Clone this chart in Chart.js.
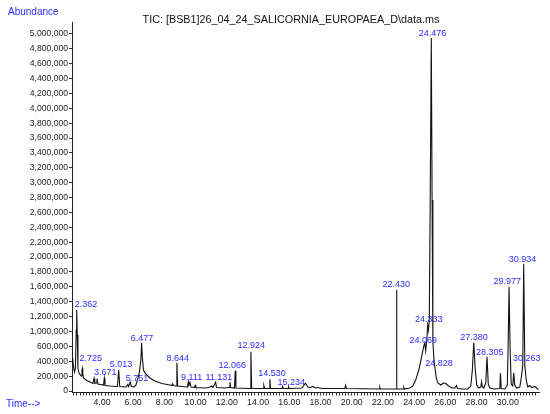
<!DOCTYPE html>
<html>
<head>
<meta charset="utf-8">
<title>TIC chromatogram</title>
<script src="https://cdn.jsdelivr.net/npm/chart.js@4.4.1/dist/chart.umd.min.js"></script>
<style>
  body { margin: 0; background: #fff; }
  #wrap { width: 550px; height: 414px; }
</style>
</head>
<body>
<div id="wrap"><canvas id="ticChart" width="550" height="414"></canvas></div>
<script>
// retention time (min) of each traced point of the TIC trace
const times = [
    2.08, 2.12, 2.17, 2.24, 2.30, 2.35, 2.38, 2.42, 2.46, 2.53,
    2.66, 2.72, 2.74, 2.77, 2.82, 2.98, 3.23, 3.42, 3.49, 3.54,
    3.62, 3.68, 3.74, 4.10, 4.15, 4.19, 4.51, 4.99, 5.07, 5.14,
    5.54, 5.65, 5.70, 5.81, 5.88, 6.05, 6.18, 6.31, 6.40, 6.49,
    6.54, 6.59, 6.66, 6.75, 6.88, 7.07, 7.39, 7.84, 8.35, 8.48,
    8.53, 8.58, 8.75, 8.80, 8.85, 9.12, 9.48, 9.53, 9.57, 9.64,
    9.70, 9.92, 9.97, 10.02, 10.60, 10.85, 11.03, 11.11, 11.28, 11.34,
    11.88, 12.15, 12.20, 12.25, 12.49, 12.54, 12.58, 13.50, 13.54, 13.59,
    14.34, 14.37, 14.42, 14.72, 14.76, 14.80, 15.53, 15.57, 15.62, 15.92,
    15.96, 15.99, 16.81, 17.04, 17.19, 17.35, 17.51, 17.70, 17.83, 18.09,
    19.56, 19.61, 19.66, 21.77, 21.80, 21.83, 22.84, 22.87, 22.90, 23.31,
    23.34, 23.37, 23.72, 23.91, 24.10, 24.30, 24.49, 24.62, 24.68, 24.74,
    24.81, 24.87, 24.92, 24.97, 25.03, 25.10, 25.15, 25.20, 25.26, 25.32,
    25.42, 25.52, 25.71, 25.87, 26.03, 26.16, 26.41, 26.61, 26.72, 26.77,
    27.06, 27.44, 27.63, 27.73, 27.82, 27.91, 28.01, 28.14, 28.27, 28.32,
    28.37, 28.46, 28.59, 28.67, 28.75, 28.85, 29.10, 29.49, 29.53, 29.58,
    29.81, 29.97, 30.03, 30.08, 30.15, 30.22, 30.32, 30.38, 30.45, 30.57,
    30.77, 30.89, 30.96, 31.02, 31.09, 31.18, 31.28, 31.41, 31.54, 31.73,
    31.89, 31.95
];

// abundance at each of those times (in the units of the plotted axis)
const abundances = [
    390000, 444000, 336000, 255000, 309000, 820000, 1089000, 753000, 309000, 242000,
    202000, 282000, 302000, 228000, 175000, 148000, 121000, 101000, 168000, 101000,
    108000, 168000, 94000, 81000, 171000, 74000, 67000, 61000, 282000, 61000,
    54000, 87000, 61000, 121000, 61000, 54000, 81000, 175000, 255000, 417000,
    649000, 444000, 282000, 242000, 215000, 175000, 134000, 101000, 81000, 74000,
    97000, 74000, 67000, 380000, 67000, 61000, 54000, 125000, 81000, 114000,
    54000, 47000, 74000, 47000, 40000, 47000, 67000, 47000, 117000, 47000,
    40000, 47000, 117000, 47000, 40000, 273000, 40000, 34000, 528000, 34000,
    34000, 74000, 34000, 34000, 157000, 34000, 34000, 61000, 34000, 34000,
    54000, 34000, 40000, 104000, 54000, 47000, 61000, 40000, 47000, 34000,
    34000, 74000, 34000, 27000, 50000, 27000, 27000, 1358000, 27000, 27000,
    47000, 27000, 40000, 67000, 148000, 282000, 471000, 605000, 645000, 538000,
    686000, 887000, 820000, 955000, 2568000, 4746000, 2568000, 686000, 444000, 336000,
    175000, 108000, 81000, 108000, 101000, 74000, 40000, 40000, 74000, 34000,
    27000, 27000, 67000, 282000, 649000, 309000, 81000, 40000, 54000, 125000,
    54000, 40000, 108000, 461000, 94000, 40000, 27000, 34000, 238000, 34000,
    27000, 81000, 686000, 1402000, 551000, 94000, 67000, 246000, 81000, 40000,
    54000, 215000, 350000, 1707000, 350000, 148000, 54000, 74000, 47000, 61000,
    34000, 20000
];

// peak annotations: text and the (time, abundance) point where each one sits
const peakNames = ["2.362", "2.725", "3.671", "5.013", "5.751", "6.477", "8.644", "9.111",
    "11.131", "12.066", "12.924", "14.530", "15.234", "22.430", "24.476", "24.333",
    "24.069", "24.828", "27.380", "28.305", "29.977", "30.934", "30.263"];
const peakLabelTimes = [2.98, 3.28, 4.21, 5.22, 6.24, 6.56, 8.85, 9.74,
    11.49, 12.34, 13.56, 14.89, 16.12, 22.86, 25.17, 24.94,
    24.58, 25.59, 27.84, 28.85, 29.97, 30.95, 31.22];
const peakLabelLevels = [1156000, 440000, 246000, 350000, 171000, 709000, 440000, 184000,
    184000, 340000, 609000, 229000, 112000, 1425000, 4809000, 964000,
    672000, 372000, 722000, 515000, 1470000, 1771000, 440000];

// y tick labels as printed on the original (800,000 is absent there)
const yTickLabels = ["0", "200,000", "400,000", "600,000", "1,000,000", "1,200,000",
    "1,400,000", "1,600,000", "1,800,000", "2,000,000", "2,200,000", "2,400,000",
    "2,600,000", "2,800,000", "3,000,000", "3,200,000", "3,400,000", "3,600,000",
    "3,800,000", "4,000,000", "4,200,000", "4,400,000", "4,600,000", "4,800,000",
    "5,000,000"];
const yTickStep = 200000;

const titleText = "TIC: [BSB1]26_04_24_SALICORNIA_EUROPAEA_D\\data.ms";
const FONT = "'Liberation Sans', Arial, sans-serif";
const BLUE = "#2b2bff";

// blue peak labels + titles drawn on top
const annotations = {
    id: "annotations",
    afterDraw(chart) {
        const ctx = chart.ctx;
        const x = chart.scales.x, y = chart.scales.y;
        ctx.save();
        ctx.textAlign = "center";
        ctx.textBaseline = "middle";
        ctx.fillStyle = BLUE;
        ctx.font = "9px " + FONT;
        peakNames.forEach((name, i) => {
            ctx.fillText(name, x.getPixelForValue(peakLabelTimes[i]), y.getPixelForValue(peakLabelLevels[i]));
        });

        ctx.textAlign = "left";
        ctx.font = "10px " + FONT;
        ctx.fillText("Abundance", 8, 12);
        ctx.fillText("Time-->", 6, 404);

        ctx.fillStyle = "#111";
        ctx.textAlign = "center";
        ctx.font = "10.8px " + FONT;
        ctx.fillText(titleText, 291, 20.5);
        ctx.restore();
    }
};

new Chart(document.getElementById("ticChart").getContext("2d"), {
    type: "line",
    data: {
        datasets: [{
            label: "TIC",
            data: times.map((t, i) => ({ x: t, y: abundances[i] })),
            borderColor: "#111",
            borderWidth: 1.1,
            pointRadius: 0,
            tension: 0,
            fill: false
        }]
    },
    options: {
        responsive: false,
        animation: false,
        devicePixelRatio: 1,
        layout: { padding: { top: 22.7, right: 11, bottom: 0, left: 0 } },
        plugins: {
            legend: { display: false },
            tooltip: { enabled: false }
        },
        scales: {
            x: {
                type: "linear",
                min: 2.08,
                max: 32.0,
                afterBuildTicks: scale => {
                    // a tick every 0.2 min, labelled every 2 min
                    const ticks = [];
                    for (let k = 11; k <= 159; k++) ticks.push({ value: k / 5 });
                    scale.ticks = ticks;
                },
                afterFit: scale => { scale.height = 21.5; },
                ticks: {
                    autoSkip: false,
                    maxRotation: 0,
                    padding: 2,
                    color: "#222",
                    font: { family: FONT, size: 8.8 },
                    callback: v => {
                        const k = Math.round(v * 5);
                        return k % 10 === 0 ? (k / 5).toFixed(2) : "";
                    }
                },
                grid: { drawOnChartArea: false, drawTicks: true, tickLength: 3, color: "#333" },
                border: { display: true, color: "#222", width: 1 }
            },
            y: {
                type: "linear",
                min: -20000,
                max: 4950000,
                afterBuildTicks: scale => {
                    scale.ticks = yTickLabels.map((_, i) => ({ value: i * yTickStep }));
                },
                afterFit: scale => { scale.width = 72; },
                ticks: {
                    autoSkip: false,
                    padding: 1,
                    color: "#222",
                    font: { family: FONT, size: 8.6 },
                    callback: (v, i) => yTickLabels[i]
                },
                grid: { drawOnChartArea: false, drawTicks: true, tickLength: 3, color: "#333" },
                border: { display: true, color: "#222", width: 1 }
            }
        }
    },
    plugins: [annotations]
});
</script>
</body>
</html>
